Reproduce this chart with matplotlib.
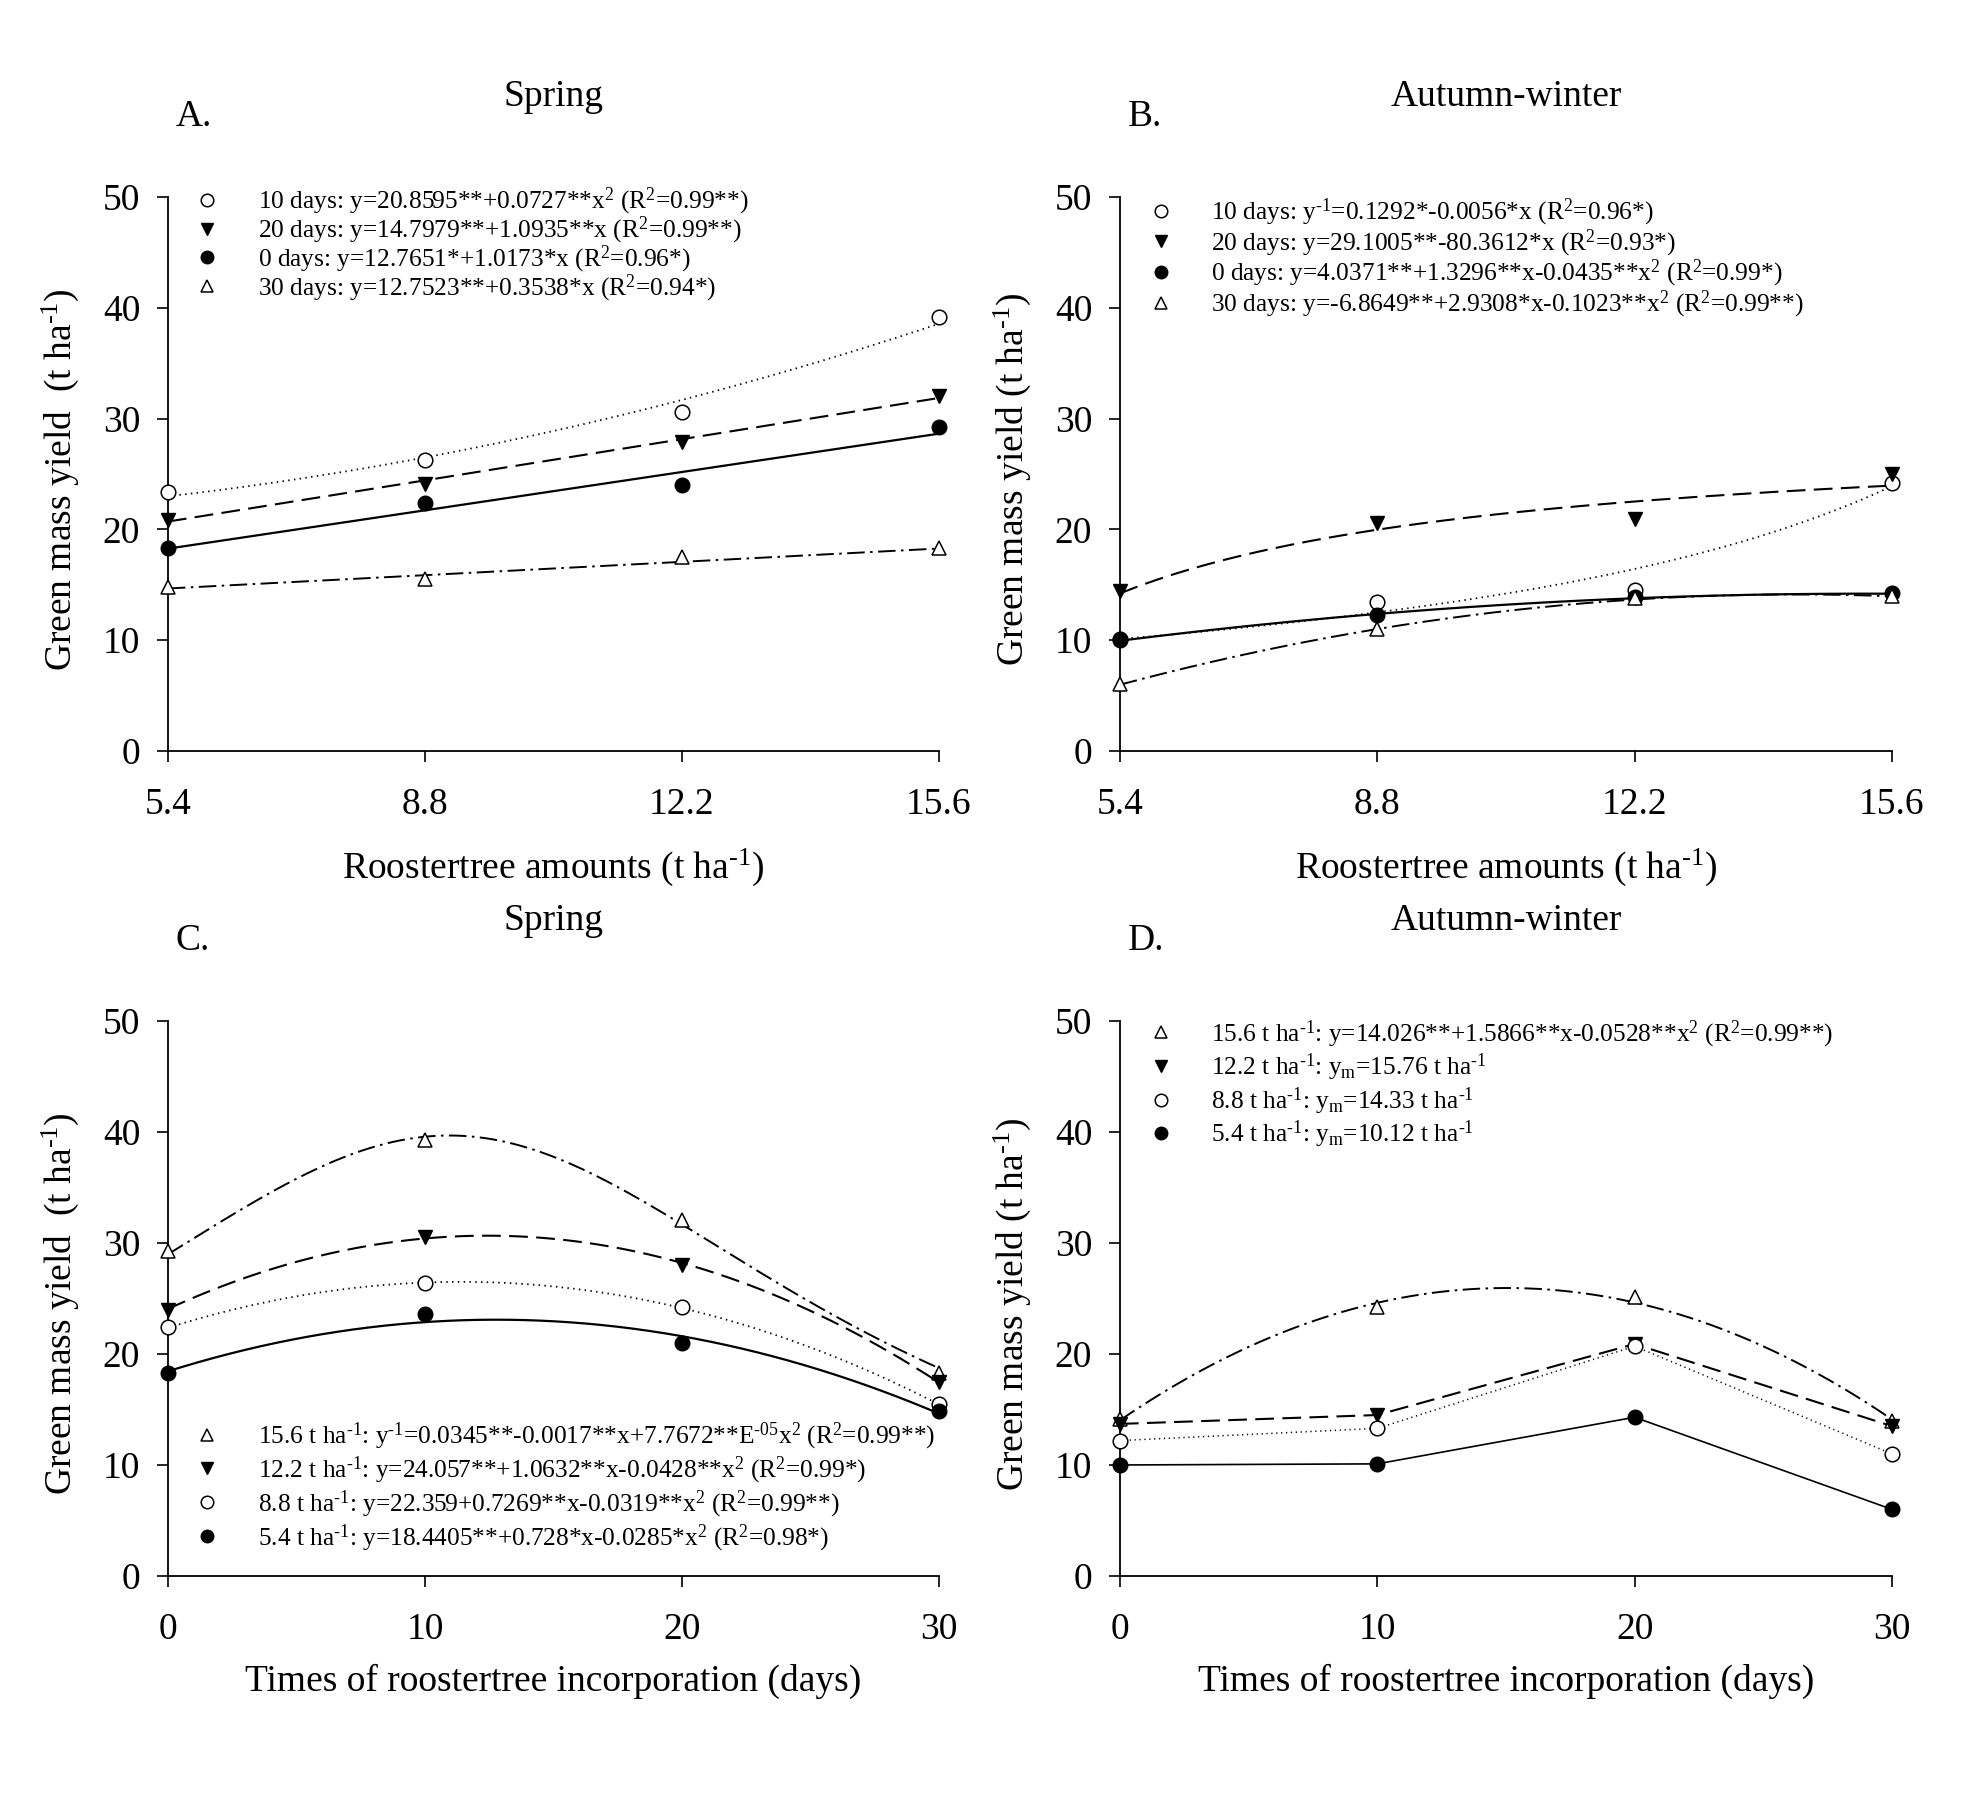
import numpy as np
import matplotlib.pyplot as plt
from matplotlib.lines import Line2D

plt.rcParams['font.family'] = ['Liberation Serif', 'DejaVu Serif']
plt.rcParams['mathtext.fontset'] = 'custom'
plt.rcParams['mathtext.rm'] = 'Liberation Serif'
plt.rcParams['mathtext.it'] = 'Liberation Serif:italic'
plt.rcParams['mathtext.default'] = 'regular'

# x values
amounts = [5.4, 8.8, 12.2, 15.6]
days = [0, 10, 20, 30]

# A. spring, by time of incorporation
a_10 = [23.4, 26.3, 30.6, 39.2]
a_20 = [20.8, 24.1, 27.9, 32.0]
a_0 = [18.3, 22.4, 24.0, 29.2]
a_30 = [14.8, 15.5, 17.5, 18.3]
# B. autumn-winter
b_10 = [10.1, 13.4, 14.5, 24.2]
b_20 = [14.4, 20.6, 20.9, 25.0]
b_0 = [10.0, 12.3, 13.9, 14.3]
b_30 = [6.0, 11.0, 13.8, 14.0]
# C. spring, by amount
c_156 = [29.3, 39.3, 32.1, 18.3]
c_122 = [24.0, 30.5, 28.0, 17.5]
c_88 = [22.4, 26.4, 24.2, 15.5]
c_54 = [18.3, 23.6, 21.0, 14.9]
# D. autumn-winter
d_156 = [14.1, 24.2, 25.1, 14.0]
d_122 = [13.7, 14.5, 20.9, 13.5]
d_88 = [12.2, 13.3, 20.7, 11.0]
d_54 = [10.0, 10.1, 14.3, 6.0]

# regression coefficients printed in the legends
a_10_fit = [20.8595, 0.0727]        # y = a + b x^2
a_20_fit = [14.7979, 1.0935]        # y = a + b x
a_0_fit = [12.7651, 1.0173]
a_30_fit = [12.7523, 0.3538]
b_10_fit = [0.1292, -0.0056]        # 1/y = a + b x
b_20_fit = [29.1005, -80.3612]      # y = a + b / x
b_0_fit = [4.0371, 1.3296, -0.0435]  # y = a + b x + c x^2
b_30_fit = [-6.8649, 2.9308, -0.1023]
c_156_fit = [0.0345, -0.0017, 7.7672e-05]  # 1/y = a + b x + c x^2
c_122_fit = [24.057, 1.0632, -0.0428]
c_88_fit = [22.359, 0.7269, -0.0319]
c_54_fit = [18.4405, 0.728, -0.0285]
d_156_fit = [14.026, 1.5866, -0.0528]

H = '\u2010'  # hyphen used in the superscripts
a_labels = ['10 days: y=20.8595**+0.0727**x$^2$ (R$^2$=0.99**)',
            '20 days: y=14.7979**+1.0935**x (R$^2$=0.99**)',
            '0 days: y=12.7651*+1.0173*x (R$^2$=0.96*)',
            '30 days: y=12.7523**+0.3538*x (R$^2$=0.94*)']
b_labels = ['10 days: y$^{' + H + '1}$=0.1292*-0.0056*x (R$^2$=0.96*)',
            '20 days: y=29.1005**-80.3612*x (R$^2$=0.93*)',
            '0 days: y=4.0371**+1.3296**x-0.0435**x$^2$ (R$^2$=0.99*)',
            '30 days: y=-6.8649**+2.9308*x-0.1023**x$^2$ (R$^2$=0.99**)']
c_labels = ['15.6 t ha$^{' + H + '1}$: y$^{' + H + '1}$=0.0345**-0.0017**x+7.7672**E$^{' + H + '05}$x$^2$ (R$^2$=0.99**)',
            '12.2 t ha$^{' + H + '1}$: y=24.057**+1.0632**x-0.0428**x$^2$ (R$^2$=0.99*)',
            '8.8 t ha$^{' + H + '1}$: y=22.359+0.7269**x-0.0319**x$^2$ (R$^2$=0.99**)',
            '5.4 t ha$^{' + H + '1}$: y=18.4405**+0.728*x-0.0285*x$^2$ (R$^2$=0.98*)']
d_labels = ['15.6 t ha$^{' + H + '1}$: y=14.026**+1.5866**x-0.0528**x$^2$ (R$^2$=0.99**)',
            '12.2 t ha$^{' + H + '1}$: y$_m$=15.76 t ha$^{' + H + '1}$',
            '8.8 t ha$^{' + H + '1}$: y$_m$=14.33 t ha$^{' + H + '1}$',
            '5.4 t ha$^{' + H + '1}$: y$_m$=10.12 t ha$^{' + H + '1}$']

# marker / line styles
m_ocirc = dict(marker='o', mfc='white', mec='black', ms=10.5, mew=1.1)
m_fcirc = dict(marker='o', mfc='black', mec='black', ms=10.5)
m_dtri = dict(marker='v', mfc='black', mec='black', ms=10.5)
m_utri = dict(marker='^', mfc='white', mec='black', ms=10.5, mew=1.1)
ls_dot = dict(ls=(0, (0.8, 2.4)), lw=1.3)
ls_dash = dict(ls=(0, (9, 4)), lw=1.5)
ls_solid = dict(ls='-', lw=1.6)
ls_dd = dict(ls=(0, (9, 2.8, 1.3, 2.8)), lw=1.4)


def poly(c, x):
    return sum(ci * x ** i for i, ci in enumerate(c))


def draw(ax, x, y, fx, fy, mk, ls):
    ax.plot(fx, fy, color='black', clip_on=False, **ls)
    ax.plot(x, y, ls='none', clip_on=False, zorder=4, **mk)


def style(ax, xt, xtl):
    ax.spines['top'].set_visible(False)
    ax.spines['right'].set_visible(False)
    ax.spines['left'].set_linewidth(1.3)
    ax.spines['bottom'].set_linewidth(1.3)
    ax.set_xlim(xt[0], xt[-1])
    ax.set_ylim(0, 50)
    ax.set_xticks(xt)
    ax.set_xticklabels(xtl)
    ax.set_yticks([0, 10, 20, 30, 40, 50])
    ax.tick_params(axis='both', direction='out', length=8, width=1.2, labelsize=27)
    ax.tick_params(axis='x', pad=18)
    ax.tick_params(axis='y', pad=12)


def add_legend(ax, mks, labels, anchor, spacing):
    hs = [Line2D([], [], ls='none', **dict(mk, ms=9)) for mk in mks]
    ax.legend(hs, labels, loc='upper left', bbox_to_anchor=anchor, frameon=False,
              fontsize=18.3, handlelength=1.5, handletextpad=1.25,
              labelspacing=spacing, borderpad=0, borderaxespad=0)


fig = plt.figure(figsize=(19.78, 18.10), dpi=100)
axA = fig.add_axes([0.0849, 0.5851, 0.3898, 0.3061])
axB = fig.add_axes([0.5662, 0.5851, 0.3903, 0.3061])
axC = fig.add_axes([0.0849, 0.1293, 0.3898, 0.3066])
axD = fig.add_axes([0.5662, 0.1293, 0.3903, 0.3066])

xa = np.linspace(amounts[0], amounts[-1], 200)
xd = np.linspace(days[0], days[-1], 200)

# A
draw(axA, amounts, a_10, xa, a_10_fit[0] + a_10_fit[1] * xa ** 2, m_ocirc, ls_dot)
draw(axA, amounts, a_20, xa, poly(a_20_fit, xa), m_dtri, ls_dash)
draw(axA, amounts, a_0, xa, poly(a_0_fit, xa), m_fcirc, ls_solid)
draw(axA, amounts, a_30, xa, poly(a_30_fit, xa), m_utri, ls_dd)
# B
draw(axB, amounts, b_10, xa, 1 / poly(b_10_fit, xa), m_ocirc, ls_dot)
draw(axB, amounts, b_20, xa, b_20_fit[0] + b_20_fit[1] / xa, m_dtri, ls_dash)
draw(axB, amounts, b_0, xa, poly(b_0_fit, xa), m_fcirc, ls_solid)
draw(axB, amounts, b_30, xa, poly(b_30_fit, xa), m_utri, ls_dd)
# C
draw(axC, days, c_156, xd, 1 / poly(c_156_fit, xd), m_utri, ls_dd)
draw(axC, days, c_122, xd, poly(c_122_fit, xd), m_dtri, ls_dash)
draw(axC, days, c_88, xd, poly(c_88_fit, xd), m_ocirc, ls_dot)
draw(axC, days, c_54, xd, poly(c_54_fit, xd), m_fcirc, ls_solid)
# D
draw(axD, days, d_156, xd, poly(d_156_fit, xd), m_utri, ls_dd)
draw(axD, days, d_122, days, d_122, m_dtri, ls_dash)
draw(axD, days, d_88, days, d_88, m_ocirc, dict(ls_dot, lw=1.1))
draw(axD, days, d_54, days, d_54, m_fcirc, dict(ls_solid, lw=1.2))

amt_lbl = ['5.4', '8.8', '12.2', '15.6']
day_lbl = ['0', '10', '20', '30']
for ax in (axA, axB):
    style(ax, amounts, amt_lbl)
    ax.set_xlabel('Roostertree amounts (t ha$^{' + H + '1}$)', fontsize=27, va='center')
    ax.xaxis.set_label_coords(0.5, -0.21)
for ax in (axC, axD):
    style(ax, days, day_lbl)
    ax.set_xlabel('Times of roostertree incorporation (days)', fontsize=27, va='center')
    ax.xaxis.set_label_coords(0.5, -0.19)

ylab2 = 'Green mass yield  (t ha$^{' + H + '1}$)'
ylab1 = 'Green mass yield (t ha$^{' + H + '1}$)'
axA.set_ylabel(ylab2, fontsize=27, va='center')
axC.set_ylabel(ylab2, fontsize=27, va='center')
axB.set_ylabel(ylab1, fontsize=27, va='center')
axD.set_ylabel(ylab1, fontsize=27, va='center')
for ax in (axA, axB, axC, axD):
    ax.yaxis.set_label_coords(-0.14, 0.49)

# titles and panel letters
for ax, title, letter in ((axA, 'Spring', 'A.'), (axB, 'Autumn-winter', 'B.'),
                          (axC, 'Spring', 'C.'), (axD, 'Autumn-winter', 'D.')):
    ax.text(0.5, 1.18, title, transform=ax.transAxes, ha='center', va='center', fontsize=27)
    ax.text(0.01, 1.145, letter, transform=ax.transAxes, ha='left', va='center', fontsize=27)

add_legend(axA, [m_ocirc, m_dtri, m_fcirc, m_utri], a_labels, (0.026, 1.02), -0.1)
add_legend(axB, [m_ocirc, m_dtri, m_fcirc, m_utri], b_labels, (0.028, 1.0), -0.03)
add_legend(axC, [m_utri, m_dtri, m_ocirc, m_fcirc], c_labels, (0.026, 0.28), 0.1)
add_legend(axD, [m_utri, m_dtri, m_ocirc, m_fcirc], d_labels, (0.028, 1.005), 0.08)

plt.savefig('out.png', dpi=100)
